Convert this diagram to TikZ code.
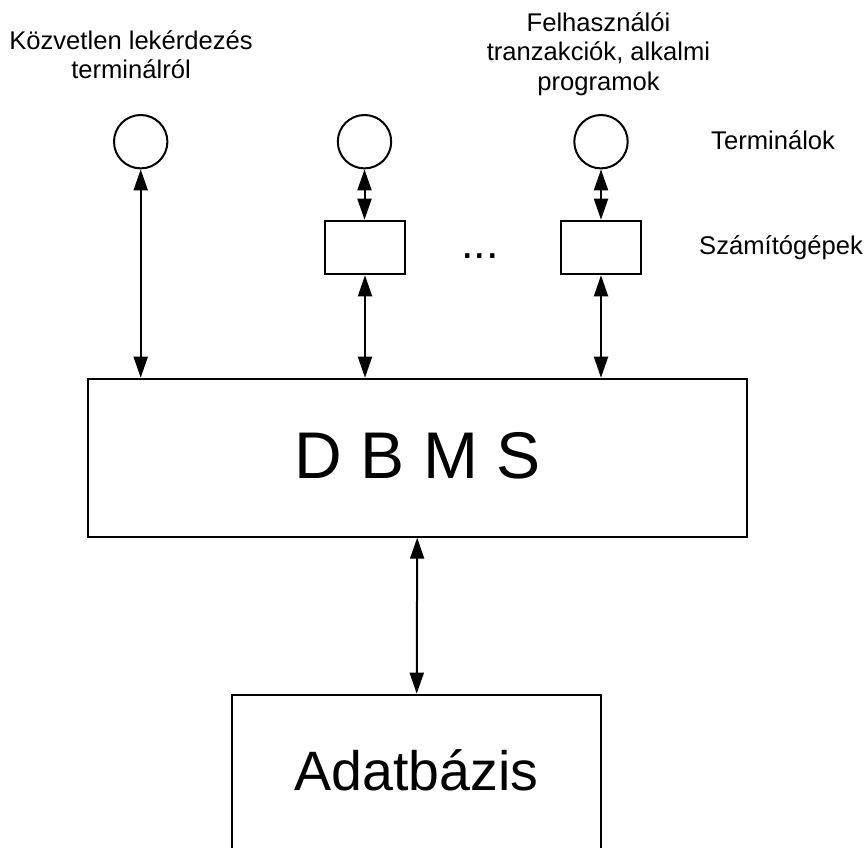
\documentclass[tikz,border=0pt]{standalone}
\usepackage{fontspec}
\setmainfont{Liberation Sans}
\usetikzlibrary{arrows.meta}

\newcommand{\smalltext}{\fontsize{25.6}{29}\selectfont}

\tikzset{
  frame/.style={draw=black, line width=2pt, inner sep=0pt, fill=none},
  terminal/.style={frame, circle, minimum size=53.4pt},
  computer/.style={frame, rectangle, minimum width=80pt, minimum height=53.6pt},
  link/.style={line width=2pt, {Triangle[length=21pt,width=14pt]}-{Triangle[length=21pt,width=14pt]}},
  caption/.style={inner sep=0pt, anchor=base, font=\smalltext},
  sidecaption/.style={inner sep=0pt, anchor=base west, font=\smalltext},
}

\begin{document}
\begin{tikzpicture}[x=1pt, y=-1pt]
  \useasboundingbox (0,0) rectangle (868,848);

  % terminals
  \node[terminal] (c1) at (140.7,141.7) {};
  \node[terminal] (c2) at (364.5,141.7) {};
  \node[terminal] (c3) at (601,141.7) {};

  % computers
  \node[computer] (b1) at (365,247.5) {};
  \node[computer] (b2) at (601,247.5) {};

  % DBMS and database
  \node[frame, rectangle, minimum width=659pt, minimum height=158pt] (dbms) at (417.2,457.7) {};
  \node[inner sep=0pt, anchor=base, font=\fontsize{66}{70}\selectfont] (dbmstext) at (417.8,478.3) {D B M S};
  \node[frame, rectangle, minimum width=368.7pt, minimum height=170pt] (db) at (416.7,779.7) {};
  \node[inner sep=0pt, anchor=base, font=\fontsize{55.5}{60}\selectfont] (dbtext) at (416.5,790) {Adatbázis};

  % captions
  \node[caption] (l1a) at (131,50) {Közvetlen lekérdezés};
  \node[caption] (l1b) at (131,78.5) {terminálról};
  \node[caption] (l3a) at (598.5,31.7) {Felhasználói};
  \node[caption] (l3b) at (598.5,61) {tranzakciók, alkalmi};
  \node[caption] (l3c) at (598.5,90.3) {programok};
  \node[sidecaption] (term) at (711,150) {Terminálok};
  \node[sidecaption] (comp) at (699,254) {Számítógépek};
  \node[inner sep=0pt, anchor=base west, font=\fontsize{45}{50}\selectfont] (dots) at (461,258.3) {...};

  % connections
  \draw[link] (c1.south) -- (c1.south |- dbms.north);
  \draw[link] (c2.south) -- (c2.south |- b1.north);
  \draw[link] (b1.south) -- (b1.south |- dbms.north);
  \draw[link] (c3.south) -- (b2.north);
  \draw[link] (b2.south) -- (b2.south |- dbms.north);
  \draw[link] (dbms.south) -- (db.north);
\end{tikzpicture}
\end{document}
